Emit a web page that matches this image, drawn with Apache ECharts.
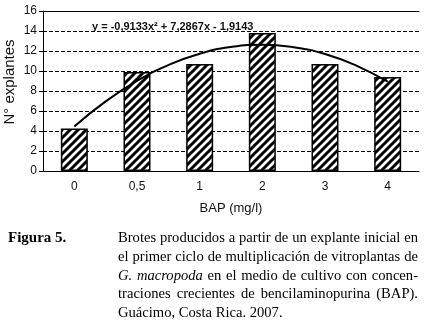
<!DOCTYPE html>
<html>
<head>
<meta charset="utf-8">
<script src="https://cdn.jsdelivr.net/npm/echarts@6/dist/echarts.min.js"></script>
<style>
  html, body { margin: 0; padding: 0; background: #fff; }
  #chart { width: 425px; height: 329px; }
</style>
</head>
<body>
<div id="chart"></div>
<script>
// BAP concentrations (mg/l) and shoots per explant
const categories = ['0', '0,5', '1', '2', '3', '4']
const explantes = [4.25, 9.9, 10.7, 13.8, 10.7, 9.4]
// trend line (x = category position)
const trendX = [0, 0.5, 1, 1.5, 2, 2.5, 3, 3.5, 4, 4.5, 5]
const trendY = [4.46, 6.96, 9.01, 10.59, 11.73, 12.4, 12.63, 12.38, 11.7, 10.54, 8.93]
const equation = 'y = -0,9133x² + 7,2867x - 1,9143'
const captionLines = [
  'Brotes producidos a partir de un explante inicial en',
  'el primer ciclo de multiplicación de vitroplantas de',
  'G. macropoda en el medio de cultivo con concen-',
  'traciones crecientes de bencilaminopurina (BAP).',
  'Guácimo, Costa Rica. 2007.'
]
const italicWords = ['G.', 'macropoda']

// diagonal hatch fill for the bars
function hatch() {
  const c = document.createElement('canvas')
  c.width = 8
  c.height = 8
  const ctx = c.getContext('2d')
  ctx.fillStyle = '#fff'
  ctx.fillRect(0, 0, 8, 8)
  ctx.strokeStyle = '#000'
  ctx.lineWidth = 3
  ctx.beginPath()
  ctx.moveTo(-2, 10); ctx.lineTo(10, -2)
  ctx.moveTo(-2, 2); ctx.lineTo(2, -2)
  ctx.moveTo(6, 10); ctx.lineTo(10, 6)
  ctx.stroke()
  return c
}

const chart = echarts.init(document.getElementById('chart'))
const sans = 'Liberation Sans, Arial, sans-serif'
const serif = 'Liberation Serif, Times New Roman, serif'
const capSize = 14.6
const capLeft = 118
const capRight = 418

// justified caption: one text element per word
const measureCtx = document.createElement('canvas').getContext('2d')
function capFont(italic) {
  return (italic ? 'italic ' : '') + capSize + 'px ' + serif
}
function measure(word, italic) {
  measureCtx.font = capFont(italic)
  return measureCtx.measureText(word).width
}
const captionGraphics = []
captionLines.forEach((line, i) => {
  const words = line.split(' ')
  const italics = words.map(w => i === 2 && italicWords.includes(w))
  const widths = words.map((w, k) => measure(w, italics[k]))
  const total = widths.reduce((a, b) => a + b, 0)
  const last = i === captionLines.length - 1
  const gap = last ? measure(' ', false) : (capRight - capLeft - total) / (words.length - 1)
  let x = capLeft
  words.forEach((w, k) => {
    captionGraphics.push({
      type: 'text',
      x: x,
      y: 231 + i * 18.6,
      style: { text: w, font: capFont(italics[k]), fill: '#000' }
    })
    x += widths[k] + gap
  })
})

chart.setOption({
  animation: false,
  grid: { left: 43, right: 6, top: 11, bottom: 158 },
  xAxis: [
    {
      type: 'category',
      data: categories,
      name: 'BAP (mg/l)',
      nameLocation: 'middle',
      nameGap: 31,
      nameTextStyle: { fontFamily: sans, fontSize: 13, color: '#111' },
      axisLine: { lineStyle: { color: '#000', width: 1 } },
      axisTick: { length: 4, lineStyle: { color: '#000' } },
      axisLabel: { fontFamily: sans, fontSize: 12, color: '#111', margin: 10 },
      splitLine: { show: false }
    },
    {
      // value axis for the trend curve, drawn as the top frame line
      type: 'value',
      position: 'top',
      min: -0.5,
      max: 5.5,
      axisLine: { show: true, onZero: false, lineStyle: { color: '#000', width: 1 } },
      axisTick: { show: false },
      axisLabel: { show: false },
      splitLine: { show: false }
    }
  ],
  yAxis: {
    type: 'value',
    min: 0,
    max: 16,
    interval: 2,
    axisLine: { show: true, onZero: false, lineStyle: { color: '#000', width: 1 } },
    axisTick: { show: true, length: 4, lineStyle: { color: '#000' } },
    axisLabel: { fontFamily: sans, fontSize: 12, color: '#111', margin: 6 },
    splitLine: { lineStyle: { color: '#000', width: 1, type: [4, 2] } }
  },
  series: [
    {
      type: 'bar',
      data: explantes,
      barWidth: 27,
      itemStyle: {
        color: { image: hatch(), repeat: 'repeat' },
        borderColor: '#000',
        borderWidth: 1.5
      }
    },
    {
      type: 'line',
      xAxisIndex: 1,
      data: trendX.map((x, i) => [x, trendY[i]]),
      smooth: true,
      symbol: 'none',
      lineStyle: { color: '#000', width: 2 },
      z: 5
    }
  ],
  graphic: [
    {
      type: 'text',
      x: 10,
      y: 82,
      rotation: Math.PI / 2,
      style: {
        text: 'N° explantes',
        font: '15px ' + sans,
        fill: '#111',
        align: 'center',
        verticalAlign: 'middle'
      }
    },
    {
      type: 'text',
      left: 92,
      top: 21,
      z: 10,
      style: {
        text: equation,
        font: 'bold 11px ' + sans,
        fill: '#111'
      }
    },
    {
      type: 'text',
      left: 8,
      top: 231,
      style: { text: 'Figura 5.', font: 'bold 15px ' + serif, fill: '#000' }
    }
  ].concat(captionGraphics)
})
</script>
</body>
</html>
